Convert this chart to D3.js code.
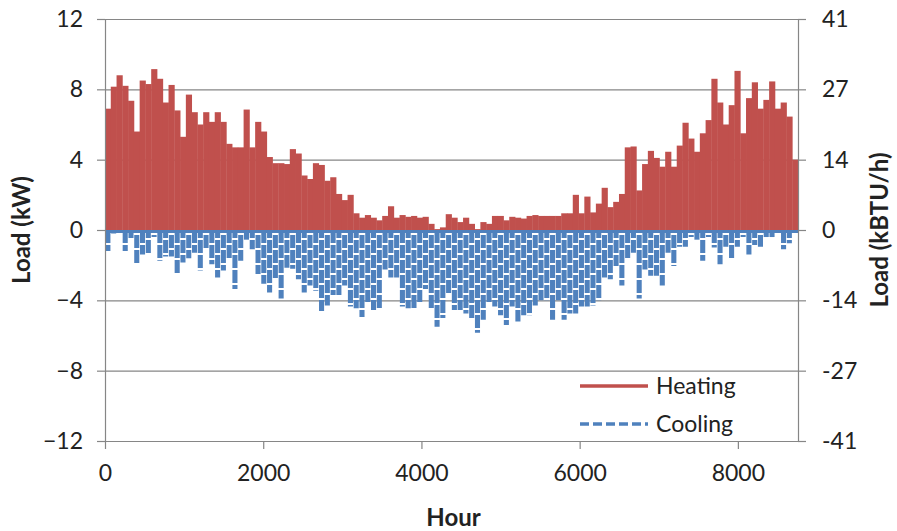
<!DOCTYPE html>
<html>
<head>
<meta charset="utf-8">
<script src="https://cdn.jsdelivr.net/npm/d3@7/dist/d3.min.js"></script>
<style>
  body { margin: 0; background: #fff; }
  text { font-family: Lato, "Open Sans", sans-serif; fill: #222; }
</style>
</head>
<body>
<svg id="chart" width="897" height="531"></svg>
<script>
const blockHours = 73;
const heating = [
  6.9, 8.15, 8.8, 8.2, 7.35, 5.6, 8.5, 8.3, 9.15, 8.6,
  7.25, 8.25, 6.8, 5.3, 7.7, 6.7, 6.0, 6.7, 6.15, 6.7,
  6.15, 4.9, 4.7, 4.7, 6.85, 4.7, 6.15, 5.6, 4.15, 3.8,
  3.8, 3.75, 4.6, 4.35, 3.1, 2.9, 3.8, 3.7, 2.8, 3.0,
  2.05, 1.7, 2.0, 0.95, 0.7, 0.85, 0.7, 0.55, 0.8, 1.35,
  0.7, 0.85, 0.75, 0.8, 0.7, 0.75, 0.35, 0.05, 0.15, 0.9,
  0.7, 0.45, 0.7, 0.35, 0.05, 0.45, 0.35, 0.8, 0.8, 0.55,
  0.75, 0.7, 0.65, 0.8, 0.85, 0.8, 0.8, 0.8, 0.8, 0.95,
  0.95, 2.0, 0.95, 1.9, 1.0, 1.5, 2.4, 1.3, 1.6, 2.05,
  4.7, 4.75, 2.25, 3.75, 4.5, 4.1, 3.6, 4.45, 3.6, 4.8,
  6.1, 5.2, 4.45, 5.5, 6.25, 8.6, 7.25, 6.0, 7.1, 9.05,
  5.5, 7.5, 8.4, 6.9, 7.4, 8.45, 6.9, 7.25, 6.45, 4.0
];
const cooling = [
  -1.2, -0.2, -0.2, -1.2, -0.5, -1.95, -1.4, -1.4, -0.4, -1.75,
  -1.5, -1.5, -2.5, -1.85, -1.6, -1.3, -2.3, -1.1, -1.95, -2.7,
  -2.3, -1.7, -3.35, -1.75, -0.55, -1.1, -2.5, -3.05, -3.55, -2.8,
  -3.9, -2.15, -2.2, -2.8, -3.55, -3.15, -3.45, -4.6, -4.3, -3.7,
  -3.7, -3.15, -4.35, -4.45, -4.95, -4.1, -4.55, -4.55, -2.25, -2.7,
  -2.7, -4.35, -4.45, -4.45, -4.1, -3.35, -4.55, -5.5, -5.0, -3.7,
  -4.55, -4.55, -4.75, -5.0, -5.85, -5.1, -4.1, -4.35, -4.85, -5.4,
  -4.35, -5.2, -4.85, -4.85, -4.3, -4.0, -4.0, -5.1, -4.0, -5.1,
  -4.75, -4.75, -4.35, -4.35, -4.3, -4.0, -2.7, -2.8, -2.05, -3.15,
  -1.65, -1.3, -3.9, -2.25, -2.6, -2.6, -3.15, -1.3, -2.05, -0.95,
  -0.95, -0.4, -0.55, -1.75, -0.4, -1.0, -1.95, -0.95, -1.6, -0.95,
  -0.4, -1.4, -0.85, -0.95, -0.4, -0.4, -0.2, -1.1, -0.75, -0.1
];
const kwTicks = [-12, -8, -4, 0, 4, 8, 12];
const kbtuLabels = ["-41", "-27", "-14", "0", "14", "27", "41"];
const hourTicks = [0, 2000, 4000, 6000, 8000];
const seriesNames = ["Heating", "Cooling"];
const seriesColors = ["#C0504D", "#4F81BD"];

const svg = d3.select("#chart");
const plotL = 105, plotR = 798, plotT = 19, plotB = 441;
const hourMax = blockHours * heating.length;

const x = d3.scaleLinear().domain([0, hourMax]).range([plotL, plotR]);
const y = d3.scaleLinear().domain([-12, 12]).range([plotB, plotT]);
const axisColor = "#868686";

// gridlines
svg.append("g")
  .attr("transform", `translate(${plotL},0)`)
  .call(d3.axisLeft(y).tickValues(kwTicks).tickSize(-(plotR - plotL)).tickFormat(""))
  .call(g => g.select(".domain").remove())
  .call(g => g.selectAll("line").attr("stroke", axisColor).attr("stroke-width", 1.2));

// heating blocks
svg.append("g").selectAll("rect")
  .data(heating)
  .join("rect")
  .attr("x", (d, i) => x(i * blockHours))
  .attr("width", (d, i) => x((i + 1) * blockHours) - x(i * blockHours) + 0.4)
  .attr("y", d => y(d))
  .attr("height", d => y(0) - y(d))
  .attr("fill", seriesColors[0]);

// cooling blocks, dashed like the original line
const blockW = x(blockHours) - x(0);
svg.append("g").selectAll("line")
  .data(cooling)
  .join("line")
  .attr("x1", (d, i) => x((i + 0.5) * blockHours))
  .attr("x2", (d, i) => x((i + 0.5) * blockHours))
  .attr("y1", y(0))
  .attr("y2", d => y(d))
  .attr("stroke", seriesColors[1])
  .attr("stroke-width", blockW - 0.7)
  .attr("stroke-dasharray", "13,2")
  .attr("stroke-dashoffset", (d, i) => (i * 5) % 15);
// cooling stays at zero for most hours
svg.append("line")
  .attr("x1", x(0)).attr("x2", x(hourMax))
  .attr("y1", y(0) + 1.5).attr("y2", y(0) + 1.5)
  .attr("stroke", seriesColors[1]).attr("stroke-width", 3);

// axes
const styleAxis = g => {
  g.select(".domain").attr("stroke", axisColor).attr("stroke-width", 1.2);
  g.selectAll(".tick line").attr("stroke", axisColor).attr("stroke-width", 1.2);
  g.selectAll("text").attr("font-size", 23).attr("fill", "#222");
};

svg.append("g")
  .attr("transform", `translate(${plotL},0)`)
  .call(d3.axisLeft(y).tickValues(kwTicks).tickSize(8).tickSizeOuter(0).tickPadding(14))
  .call(styleAxis);

svg.append("g")
  .attr("transform", `translate(${plotR},0)`)
  .call(d3.axisRight(y).tickValues(kwTicks).tickSize(8).tickSizeOuter(0).tickPadding(16)
    .tickFormat((d, i) => kbtuLabels[i]))
  .call(styleAxis);

svg.append("g")
  .attr("transform", `translate(0,${plotB})`)
  .call(d3.axisBottom(x).tickValues(hourTicks).tickSize(8).tickSizeOuter(0).tickPadding(16)
    .tickFormat(d3.format("d")))
  .call(styleAxis);

// titles
svg.append("text")
  .attr("transform", `translate(30,${y(0)}) rotate(-90)`)
  .attr("text-anchor", "middle")
  .attr("font-size", 24).attr("font-weight", "bold")
  .text("Load (kW)");
svg.append("text")
  .attr("transform", `translate(888,${y(0)}) rotate(-90)`)
  .attr("text-anchor", "middle")
  .attr("font-size", 24).attr("font-weight", "bold")
  .text("Load (kBTU/h)");
svg.append("text")
  .attr("x", (plotL + plotR) / 2 + 2).attr("y", 526)
  .attr("text-anchor", "middle")
  .attr("font-size", 24).attr("font-weight", "bold")
  .text("Hour");

// legend
const legend = svg.append("g").attr("transform", "translate(580,386)");
seriesNames.forEach((name, i) => {
  const row = legend.append("g").attr("transform", `translate(0,${i * 38})`);
  row.append("line")
    .attr("x1", 0).attr("x2", 68)
    .attr("stroke", seriesColors[i]).attr("stroke-width", 3.5)
    .attr("stroke-dasharray", i === 1 ? "9,4" : null);
  row.append("text")
    .attr("x", 76).attr("y", 8)
    .attr("font-size", 23)
    .text(name);
});
</script>
</body>
</html>
